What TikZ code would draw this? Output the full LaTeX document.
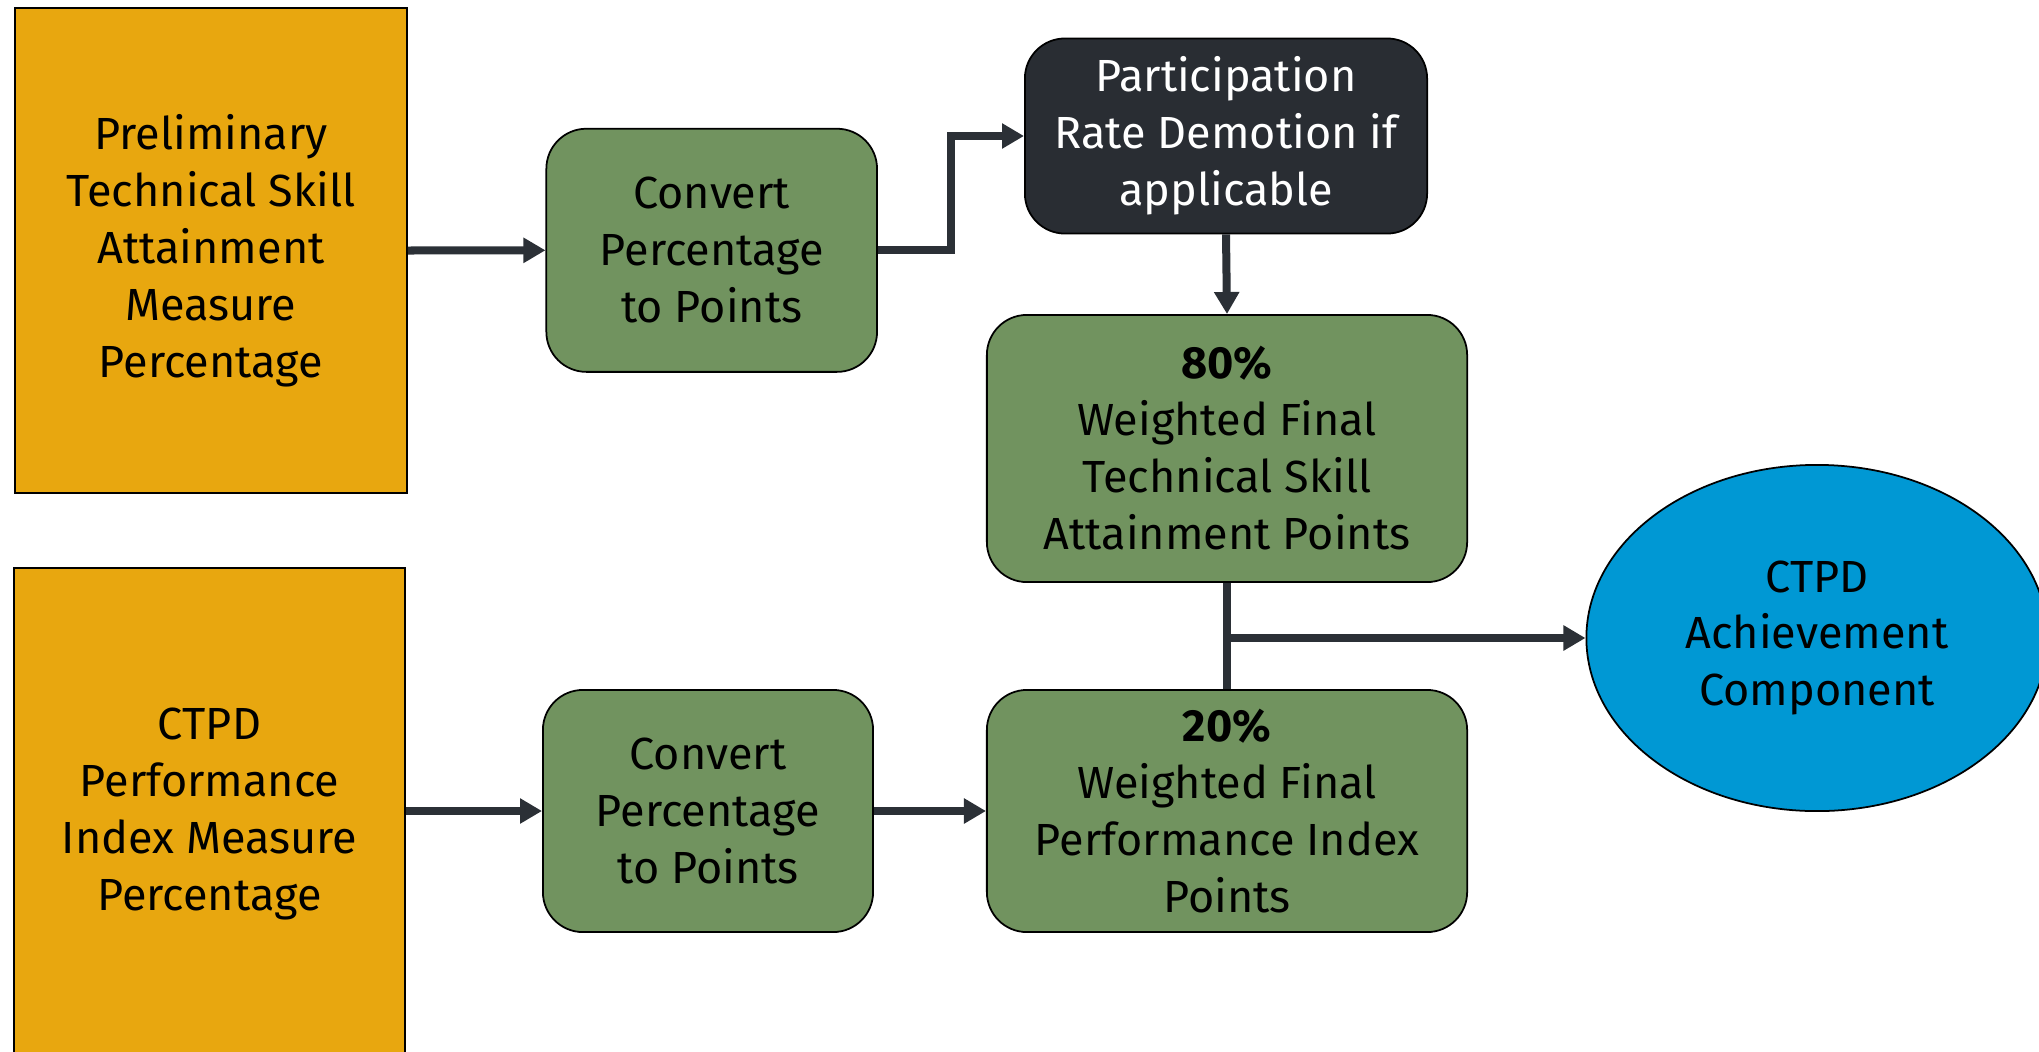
\documentclass[tikz,border=0pt]{standalone}
\usepackage{fontspec}
\setmainfont{Fira Sans}
\usetikzlibrary{arrows.meta,shapes.geometric,calc}
\definecolor{orng}{HTML}{E8A70F}
\definecolor{grn}{HTML}{71935F}
\definecolor{darkb}{HTML}{292D33}
\definecolor{blu}{HTML}{0098D4}
\definecolor{arr}{HTML}{2B3036}
\begin{document}
\begin{tikzpicture}[x=0.01cm,y=-0.01cm,
  box/.style={draw=black, line width=0.5pt, align=center, inner sep=0pt,
    font=\fontsize{12.8}{16.2}\selectfont},
  srcbox/.style={box, fill=orng},
  grnbox/.style={box, fill=grn, rounded corners=0.4cm},
  darkbox/.style={box, fill=darkb, text=white, rounded corners=0.4cm},
  ellbox/.style={box, ellipse, fill=blu},
  line/.style={draw=arr, line width=0.08cm},
  conn/.style={line, -{Triangle[length=0.22cm,width=0.24cm]}},
]
\useasboundingbox (0,0) rectangle (2039,1051);
\clip (0,0) rectangle (2039,1051);
\node[srcbox, minimum width=3.92cm, minimum height=4.85cm] (a) at (211,250.5)
  {Preliminary\\Technical Skill\\Attainment\\Measure\\Percentage};
\node[srcbox, minimum width=3.91cm, minimum height=4.92cm] (b) at (209.5,814)
  {CTPD\\Performance\\Index Measure\\Percentage};
\node[grnbox, minimum width=3.305cm, minimum height=2.43cm] (c1) at (711.7,250.3)
  {Convert\\Percentage\\to Points};
\node[grnbox, minimum width=3.30cm, minimum height=2.42cm] (c2) at (708,811)
  {Convert\\Percentage\\to Points};
\node[darkbox, minimum width=4.02cm, minimum height=1.95cm] (p) at (1226,136)
  {Participation\\Rate Demotion if\\applicable};
\node[grnbox, minimum width=4.80cm, minimum height=2.67cm] (w80) at (1227,448.5)
  {\textbf{80\%}\\Weighted Final\\Technical Skill\\Attainment Points};
\node[grnbox, minimum width=4.80cm, minimum height=2.42cm] (w20) at (1227,811)
  {\textbf{20\%}\\Weighted Final\\Performance Index\\Points};
\node[ellbox, minimum width=4.61cm, minimum height=3.46cm] (e) at (1817,638)
  {CTPD\\Achievement\\Component};
\draw[conn] (a.east) -- (c1.west);
\draw[conn] (c1.east) -| ($(c1.east)!.5!(p.west)$) |- (p.west);
\draw[conn] (p.south) -- (w80.north);
\draw[line] (w80.south) -- (w20.north);
\draw[conn] (w80.south |- e.west) -- (e.west);
\draw[conn] (b.east |- c2.west) -- (c2.west);
\draw[conn] (c2.east) -- (w20.west);
\end{tikzpicture}
\end{document}
